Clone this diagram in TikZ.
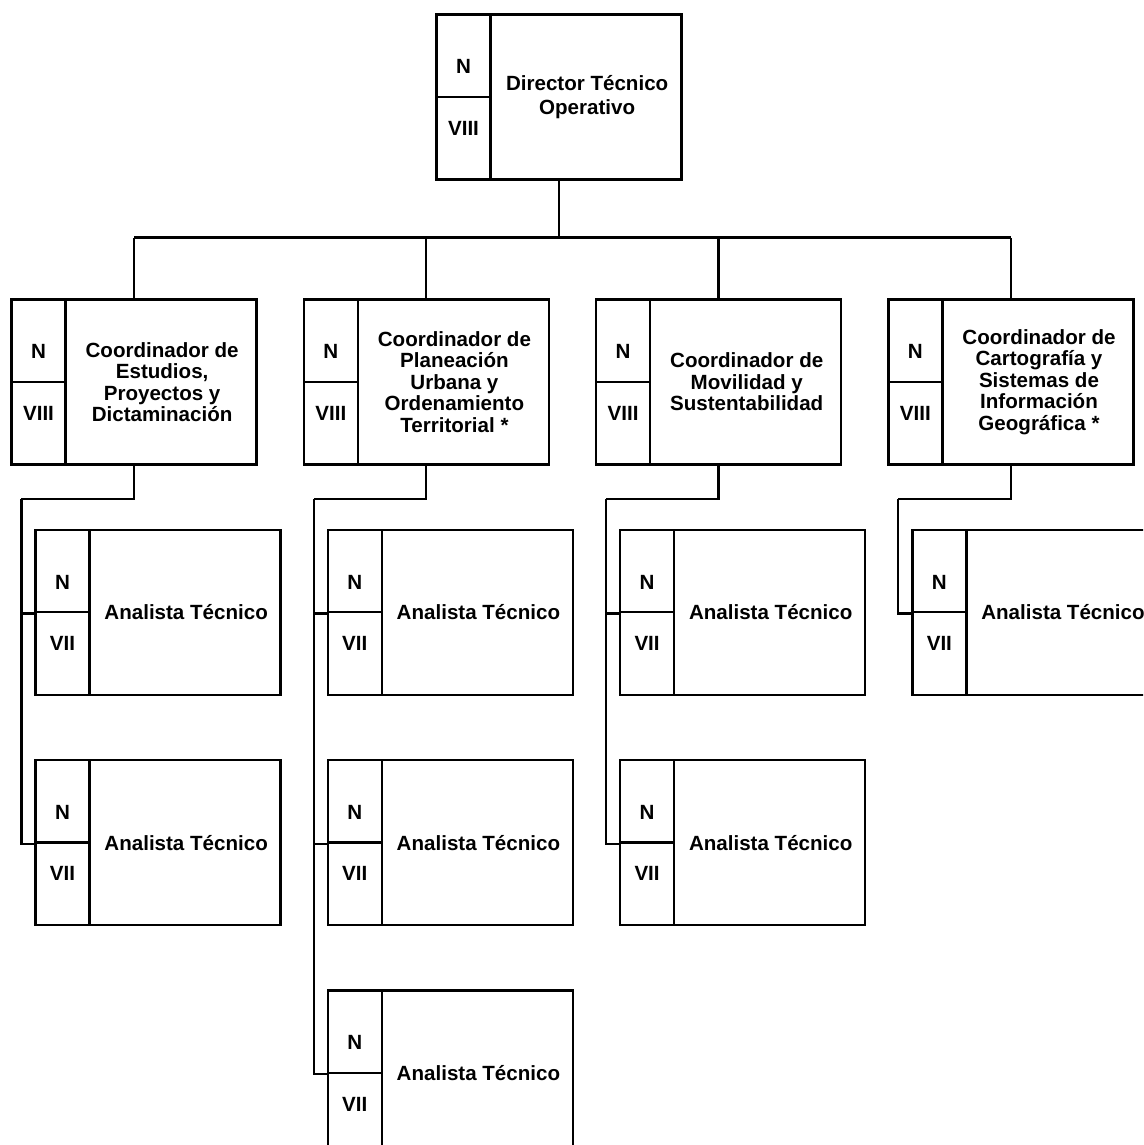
\documentclass[tikz,border=0pt]{standalone}
\usepackage{fontspec}
\setmainfont{Liberation Sans}
\usetikzlibrary{positioning,calc}

\newcommand{\Puesto}[4]{
\node[Caja,#2] (#1) {};
\node[Celda,anchor=north west] (#1a) at (#1.north west) {};
\node[Celda,anchor=south west] (#1b) at (#1.south west) {};
\node[Nivel] (#1n) at ([yshift=-0.22cm]#1a.center) {N};
\node[Nivel] (#1r) at ([yshift=0.2cm]#1b.center) {#3};
\node[Titulo] (#1t) at ($(#1a.north east)!0.5!(#1.south east)$) {#4};
}
\newcommand{\CoordLink}[3]{
\Puesto{#1}{#2}{VIII}{#3}
\draw (#1.north) -- (#1.north |- bus);
\coordinate (#1k) at ($(#1.south west)+(0.22,-0.66)$);
\draw (#1.south) |- (#1k);
}
\newcommand{\AnalistaLink}[3]{
\Puesto{#1}{#2}{VII}{Analista Técnico}
\draw (#3) |- (#1a.south west);
}
\tikzset{every node/.style={font=\bfseries\fontsize{11.7}{12.2}\selectfont}}
\tikzset{Caja/.style={draw,black,line width=1.3pt,rectangle,minimum width=4.9cm,minimum height=3.3cm,inner sep=0pt}}
\tikzset{Celda/.style={draw,black,line width=1.3pt,rectangle,minimum width=1.08cm,minimum height=1.65cm,inner sep=0pt}}
\tikzset{Nivel/.style={inner sep=0pt}}
\tikzset{Titulo/.style={align=center,inner sep=0pt}}

\begin{document}
\begin{tikzpicture}[line width=1.3pt]

\useasboundingbox (0,0) rectangle (22.86,-22.9);
\clip (0,0) rectangle (22.86,-22.9);

\Puesto{D}{at={(11.18,-1.94)}}{VIII}{Director Técnico\\[1pt]Operativo}

\coordinate (bus) at ($(D.south)+(0,-1.14)$);
\draw (D.south) -- (bus);

\CoordLink{C1}{at={(2.68,-7.64)}}{Coordinador de\\Estudios,\\Proyectos y\\Dictaminación}
\CoordLink{C2}{right=0.9cm of C1}{Coordinador de\\Planeación\\Urbana y\\Ordenamiento\\Territorial *}
\CoordLink{C3}{right=0.9cm of C2}{Coordinador de\\Movilidad y\\Sustentabilidad}
\CoordLink{C4}{right=0.9cm of C3}{Coordinador de\\Cartografía y\\Sistemas de\\Información\\Geográfica *}

\draw (C1.north |- bus) -- (C4.north |- bus);

\AnalistaLink{A11}{below=1.26cm of C1,xshift=0.48cm}{C1k}
\AnalistaLink{A12}{below=1.26cm of A11}{C1k}

\AnalistaLink{A21}{below=1.26cm of C2,xshift=0.48cm}{C2k}
\AnalistaLink{A22}{below=1.26cm of A21}{C2k}
\AnalistaLink{A23}{below=1.26cm of A22}{C2k}

\AnalistaLink{A31}{below=1.26cm of C3,xshift=0.48cm}{C3k}
\AnalistaLink{A32}{below=1.26cm of A31}{C3k}

\AnalistaLink{A41}{below=1.26cm of C4,xshift=0.48cm}{C4k}

\end{tikzpicture}
\end{document}
